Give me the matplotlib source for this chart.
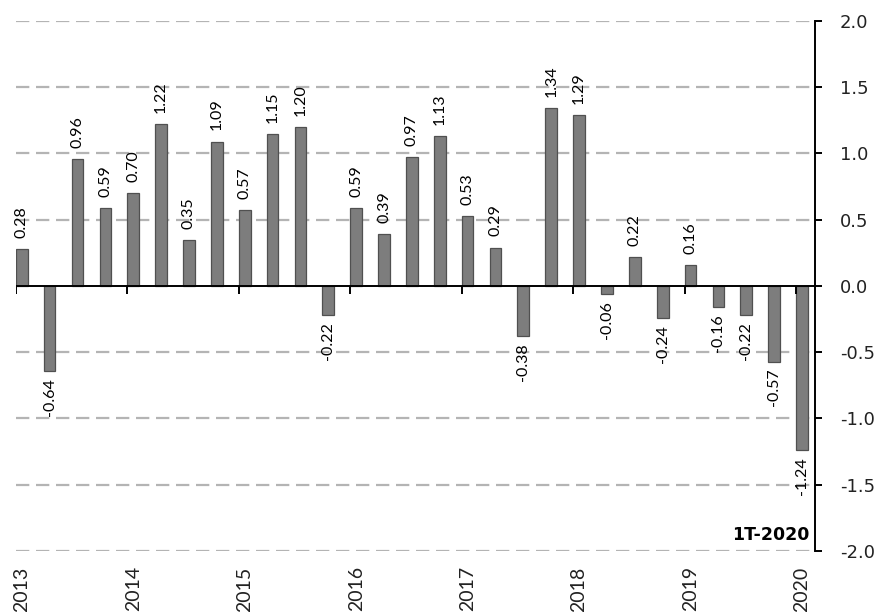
import numpy as np
import matplotlib
matplotlib.use("Agg")
import matplotlib.pyplot as plt

plt.rcParams['font.family'] = ['Lato', 'DejaVu Sans']

# quarterly values, 1T-2013 .. 1T-2020
values = [0.28, -0.64, 0.96, 0.59, 0.70, 1.22, 0.35, 1.09, 0.57, 1.15, 1.20,
          -0.22, 0.59, 0.39, 0.97, 1.13, 0.53, 0.29, -0.38, 1.34, 1.29,
          -0.06, 0.22, -0.24, 0.16, -0.16, -0.22, -0.57, -1.24]
years = ['2013', '2014', '2015', '2016', '2017', '2018', '2019', '2020']
y_ticks = [2.0, 1.5, 1.0, 0.5, 0.0, -0.5, -1.0, -1.5, -2.0]
note = '1T-2020'

bar_w = 0.42
x = np.arange(len(values))
year_pos = x[::4]

fig = plt.figure(figsize=(8.85, 6.12), dpi=100)
ax = fig.add_axes([0.018, 0.0997, 0.903, 0.866])

# dashed grid first so bars sit on top
for v in y_ticks:
    if v != 0:
        ax.axhline(v, color='#b4b4b4', lw=1.6, dashes=(6, 3), zorder=0)

ax.bar(x, values, width=bar_w, color='#7d7d7d', edgecolor='#505050',
       linewidth=0.9, zorder=2)

# zero line with year separators below it
ax.axhline(0, color='black', lw=1.4, zorder=3)
ax.vlines(year_pos - bar_w / 2, -0.06, 0, color='black', lw=1.4, zorder=3)

for xi, v in zip(x, values):
    off = 8 if v >= 0 else -5
    ax.annotate(f'{v:.2f}', (xi, v), xytext=(0, off), textcoords='offset points',
                rotation=90, ha='center', va='bottom' if v >= 0 else 'top',
                fontsize=11.5, color='black')

ax.set_xlim(-bar_w / 2, len(values) - 1 + 0.47)
ax.set_ylim(-2.0, 2.0)

ax.yaxis.tick_right()
ax.set_yticks(y_ticks)
ax.set_yticklabels([f'{v:.1f}' for v in y_ticks], fontsize=13,
                   color='#222222', family='DejaVu Sans')
ax.tick_params(axis='y', length=5, width=1.4, pad=13)

ax.set_xticks(year_pos)
ax.set_xticklabels(years, rotation=90, fontsize=14, color='#222222')
ax.tick_params(axis='x', length=0, pad=11)

for s in ['top', 'left', 'bottom']:
    ax.spines[s].set_visible(False)
ax.spines['right'].set_linewidth(1.4)

ax.text(0.993, 0.014, note, transform=ax.transAxes, ha='right', va='bottom',
        fontsize=12.5, fontweight='bold', family='DejaVu Sans')

fig.savefig('out.png', dpi=100)
